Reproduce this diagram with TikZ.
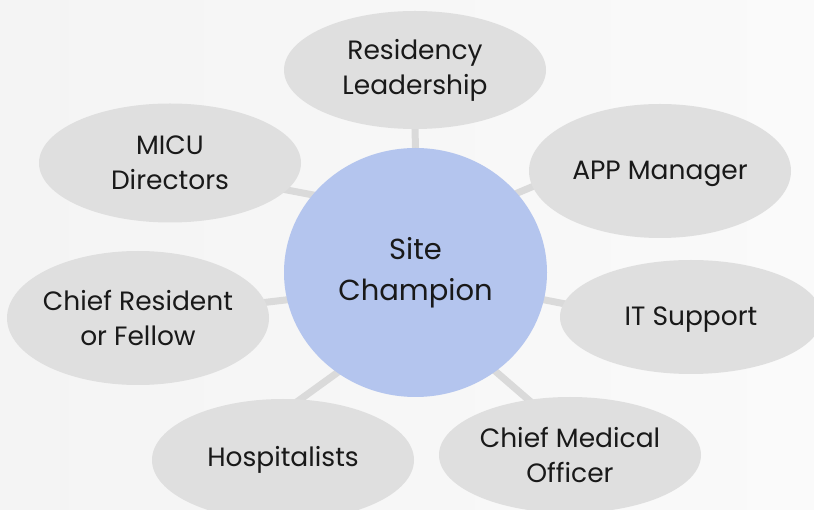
\documentclass[tikz,border=0pt]{standalone}
\usepackage{fontspec}
\setmainfont{Poppins}
\usetikzlibrary{shapes.geometric,backgrounds}
\definecolor{bubblegray}{RGB}{223,223,223}
\definecolor{champblue}{RGB}{180,197,238}
\definecolor{linkgray}{RGB}{218,218,218}
\definecolor{paper}{RGB}{244,244,244}
\definecolor{paperlight}{RGB}{250,250,250}

\begin{document}
\begin{tikzpicture}[x=1pt,y=-1pt,
  bubble/.style={ellipse,fill=bubblegray,inner sep=0pt,minimum width=262pt,minimum height=#1},
  bubble/.default=118pt,
  bubbletext/.style={align=center,text=black!90,inner sep=0pt,font=\fontsize{26.5}{35}\selectfont},
  link/.style={linkgray,line width=7pt,shorten <=-6pt,shorten >=-6pt}]
\useasboundingbox (0,0) rectangle (814,510);
\clip (0,0) rectangle (814,510);
% centre
\node[ellipse,fill=champblue,minimum width=263pt,minimum height=249pt,inner sep=0pt,
  align=center,text=black!90,font=\fontsize{29}{41}\selectfont] (champ) at (415.5,272.5) {Site\\Champion};
% outer ring
\node[bubble] (resid) at (415,70) [label={[bubbletext]center:Residency\\Leadership}] {};
\node[bubble=134pt] (app) at (660,171) [label={[bubbletext,yshift=-3pt]center:APP Manager}] {};
\node[bubble=114pt] (it) at (691,317) [label={[bubbletext,yshift=-3pt]center:IT Support}] {};
\node[bubble=116pt] (cmo) at (570,455) [label={[bubbletext]center:Chief Medical\\Officer}] {};
\node[bubble=122pt] (hosp) at (283,460) [label={[bubbletext]center:Hospitalists}] {};
\node[bubble=134pt] (cr) at (138,318) [label={[bubbletext]center:Chief Resident\\or Fellow}] {};
\node[bubble=119pt] (micu) at (170,163) [label={[bubbletext]center:MICU\\Directors}] {};
\begin{scope}[on background layer]
\shade[left color=paper,right color=paperlight] (0,0) rectangle (814,510);
\draw[link] (champ.90) -- (resid.-90);
\draw[link] (champ.38) -- (app.187);
\draw[link] (champ.-12) -- (it.174);
\draw[link] (champ.-51) -- (cmo.127);
\draw[link] (champ.232) -- (hosp.74);
\draw[link] (champ.192) -- (cr.7);
\draw[link] (champ.143) -- (micu.-13);
\end{scope}
\end{tikzpicture}
\end{document}
